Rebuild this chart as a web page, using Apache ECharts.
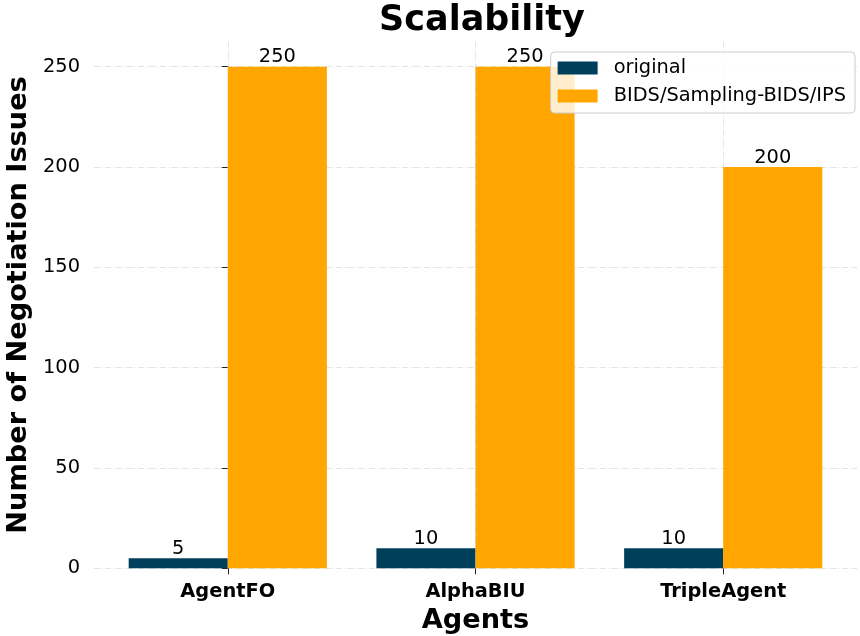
<!DOCTYPE html>
<html>
<head>
<meta charset="utf-8">
<title>Scalability</title>
<script src="https://cdn.jsdelivr.net/npm/echarts@6/dist/echarts.min.js"></script>
<style>
  html, body { margin: 0; padding: 0; background: #ffffff; }
  #chart { width: 860px; height: 636px; }
</style>
</head>
<body>
<div id="chart"></div>
<script>
// Agents compared and the largest number of negotiation issues each handles
const categories = ['AgentFO', 'AlphaBIU', 'TripleAgent'];
const originalValues = [5, 10, 10];
const bidsValues = [250, 250, 200];
const seriesNames = ['original', 'BIDS/Sampling-BIDS/IPS'];
const yTicks = [0, 50, 100, 150, 200, 250];

const FONT = 'DejaVu Sans';
const gridLine = { color: '#e3e3e3', width: 1, type: [6, 2, 1, 2] };

// bars sit on a numeric x scale (category index), so the grid lines can pass through the centres
const toPoints = vals => vals.map((v, i) => [i, v]);
const catIndex = categories.map((c, i) => i);

const barLabel = {
  show: true,
  position: 'top',
  distance: 0,
  color: '#000',
  fontFamily: FONT,
  fontSize: 19.4
};

const chart = echarts.init(document.getElementById('chart'), null, { renderer: 'canvas' });

chart.setOption({
  animation: false,
  backgroundColor: '#ffffff',
  title: {
    text: 'Scalability',
    left: 477,
    top: -2,
    textAlign: 'center',
    textStyle: { fontFamily: FONT, fontWeight: 'bold', fontSize: 35, color: '#000' }
  },
  legend: {
    orient: 'vertical',
    right: 5,
    top: 52,
    padding: [6, 9, 7, 7],
    itemWidth: 40,
    itemHeight: 13,
    itemGap: 8,
    icon: 'rect',
    backgroundColor: 'rgba(255,255,255,0.8)',
    borderColor: '#cccccc',
    borderWidth: 1,
    borderRadius: 4,
    textStyle: {
      fontFamily: FONT,
      fontSize: 19.4,
      color: '#000',
      lineHeight: 20,
      padding: [0, 0, 0, 11]
    },
    data: seriesNames
  },
  grid: {
    left: 94, right: 3, top: 41.6, bottom: 67.7,
    containLabel: false,
    outerBoundsMode: 'none'
  },
  xAxis: {
    type: 'value',
    min: -0.54,
    max: 2.54,
    splitNumber: 3,
    axisLine: { show: false },
    axisTick: {
      show: true,
      length: 6,
      customValues: catIndex,
      lineStyle: { color: '#222', width: 1 }
    },
    axisLabel: {
      customValues: catIndex,
      formatter: v => categories[Math.round(v)] || '',
      margin: 14,
      fontFamily: FONT,
      fontWeight: 'bold',
      fontSize: 19.4,
      color: '#000'
    },
    splitLine: { show: true, showMinLine: true, showMaxLine: true, lineStyle: gridLine },
    name: 'Agents',
    nameLocation: 'middle',
    nameGap: 39,
    nameTextStyle: { fontFamily: FONT, fontWeight: 'bold', fontSize: 27.2, color: '#000' }
  },
  yAxis: {
    type: 'value',
    min: 0,
    max: 262.5,
    interval: 50,
    axisLine: { show: false },
    axisTick: {
      show: true,
      length: 6,
      customValues: yTicks,
      lineStyle: { color: '#222', width: 1 }
    },
    axisLabel: {
      customValues: yTicks,
      margin: 14,
      fontFamily: FONT,
      fontSize: 19.4,
      color: '#000'
    },
    splitLine: { show: true, showMinLine: true, showMaxLine: true, lineStyle: gridLine },
    name: 'Number of Negotiation Issues',
    nameLocation: 'middle',
    nameGap: 58,
    nameTextStyle: { fontFamily: FONT, fontWeight: 'bold', fontSize: 27.2, color: '#000' }
  },
  series: [
    {
      name: seriesNames[0],
      type: 'bar',
      data: toPoints(originalValues),
      barWidth: '40%',
      barGap: '0%',
      itemStyle: { color: '#003f5c' },
      label: barLabel,
      z: 3
    },
    {
      name: seriesNames[1],
      type: 'bar',
      data: toPoints(bidsValues),
      barWidth: '40%',
      barGap: '0%',
      itemStyle: { color: '#ffa600' },
      label: barLabel,
      z: 3
    }
  ]
});
</script>
</body>
</html>
